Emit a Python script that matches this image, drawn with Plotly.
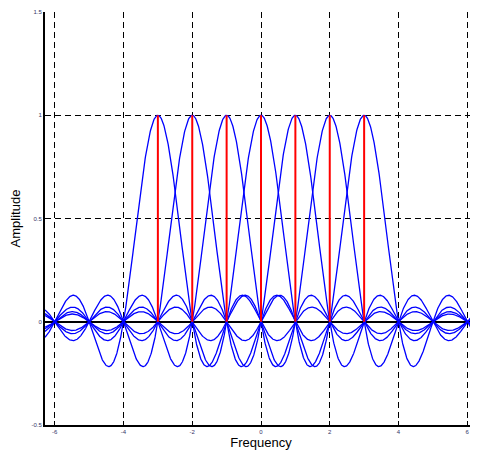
import numpy as np
import plotly.graph_objects as go

# Data
centers = [-3, -2, -1, 0, 1, 2, 3]
stem_heights = [1, 1, 1, 1, 1, 1, 1]
x_ticks = [-6, -4, -2, 0, 2, 4, 6]
x_tick_labels = ["-6", "-4", "-2", "0", "2", "4", "6"]
y_ticks = [-0.5, 0, 0.5, 1, 1.5]
y_tick_labels = ["-0.5", "0", "0.5", "1", "1.5"]
x_min, x_max = -2 * np.pi, 2 * np.pi

freq = np.linspace(x_min, x_max, 1200)

fig = go.Figure()
for c in centers:
    fig.add_trace(go.Scatter(x=freq, y=np.sinc(freq - c), mode="lines",
                             line=dict(color="#0000ff", width=1.3),
                             showlegend=False, hoverinfo="skip"))
for c, h in zip(centers, stem_heights):
    fig.add_trace(go.Scatter(x=[c, c], y=[0, h], mode="lines",
                             line=dict(color="#ff0000", width=2),
                             showlegend=False, hoverinfo="skip"))

axis_common = dict(showgrid=True, gridcolor="black", gridwidth=1.3, griddash="6px,4px",
                   showline=True, linecolor="black", linewidth=2,
                   ticks="inside", ticklen=4, tickcolor="black",
                   tickfont=dict(size=6, color="#333366", family="Liberation Sans"))

fig.update_layout(
    width=470, height=447,
    margin=dict(l=37, r=1, t=4, b=30),
    plot_bgcolor="white", paper_bgcolor="white",
    xaxis=dict(range=[x_min, x_max], tickvals=x_ticks, ticktext=x_tick_labels,
               zeroline=False, automargin=False,
               title=dict(text="Frequency", standoff=4,
                          font=dict(size=13, color="black", family="Liberation Sans")),
               **axis_common),
    yaxis=dict(range=[-0.5, 1.5], tickvals=y_ticks, ticktext=y_tick_labels,
               zeroline=True, zerolinecolor="black", zerolinewidth=1.5, automargin=False,
               title=dict(text="Amplitude", standoff=12,
                          font=dict(size=13, color="black", family="Liberation Sans")),
               **axis_common),
)

fig.write_html("out.html")
